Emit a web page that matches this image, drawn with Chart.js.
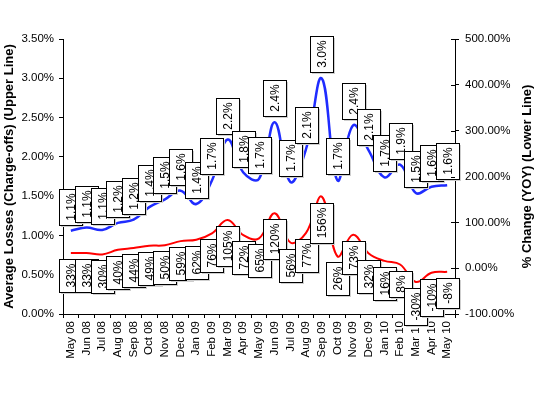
<!DOCTYPE html>
<html>
<head>
<meta charset="utf-8">
<script src="https://cdn.jsdelivr.net/npm/chart.js@4/dist/chart.umd.min.js"></script>
<style>
  html, body { margin: 0; padding: 0; background: #fff; }
  #wrap { position: relative; width: 540px; height: 395px; }
</style>
</head>
<body>
<div id="wrap"><canvas id="chart"></canvas></div>
<script>
const months = ['May 08', 'Jun 08', 'Jul 08', 'Aug 08', 'Sep 08', 'Oct 08', 'Nov 08', 'Dec 08',
  'Jan 09', 'Feb 09', 'Mar 09', 'Apr 09', 'May 09', 'Jun 09', 'Jul 09', 'Aug 09', 'Sep 09',
  'Oct 09', 'Nov 09', 'Dec 09', 'Jan 10', 'Feb 10', 'Mar 10', 'Apr 10', 'May 10'];

// average losses (charge-offs), % - left axis
const losses = [1.06, 1.10, 1.07, 1.16, 1.20, 1.36, 1.46, 1.57, 1.40, 1.70, 2.22, 1.80, 1.72,
  2.44, 1.68, 2.10, 3.00, 1.70, 2.40, 2.08, 1.74, 1.90, 1.54, 1.62, 1.64];

// year over year change, % - right axis
const yoyChange = [33, 33, 30, 40, 44, 49, 50, 59, 62, 76, 105, 72, 65, 120, 56, 77, 156,
  26, 73, 32, 16, 8, -30, -10, -8];

const lossLabels = losses.map(v => (v + 1e-9).toFixed(1) + '%');
const yoyLabels = yoyChange.map(v => v + '%');

const FONT = '"Liberation Sans", Arial, sans-serif';

// boxed, rotated data labels like the excel ones
const boxLabels = {
  id: 'boxLabels',
  afterDatasetsDraw(chart) {
    const ctx = chart.ctx;
    ctx.save();
    ctx.font = '12px ' + FONT;
    chart.data.datasets.forEach((ds, di) => {
      const meta = chart.getDatasetMeta(di);
      meta.data.forEach((pt, i) => {
        const text = ds.boxText[i];
        const tw = ctx.measureText(text).width;
        const w = 23, h = Math.round(tw + 9);
        const x = Math.round(pt.x - w / 2);
        const y = Math.round(ds.boxAbove ? pt.y - 6 - h : pt.y + 6);
        ctx.fillStyle = '#cfcfcf';
        ctx.fillRect(x + 2, y + 2, w, h);
        ctx.fillStyle = '#fff';
        ctx.fillRect(x, y, w, h);
        ctx.strokeStyle = '#000';
        ctx.lineWidth = 1;
        ctx.strokeRect(x + 0.5, y + 0.5, w, h);
        ctx.save();
        ctx.translate(x + w / 2 + 1, y + h / 2);
        ctx.rotate(-Math.PI / 2);
        ctx.fillStyle = '#000';
        ctx.textAlign = 'center';
        ctx.textBaseline = 'middle';
        ctx.fillText(text, 0, 0);
        ctx.restore();
      });
    });
    ctx.restore();
  },
};

// both axis titles read bottom to top; right axis ticks cross the axis line
const axisTitles = {
  id: 'axisTitles',
  afterDraw(chart) {
    const ctx = chart.ctx;
    const cy = (chart.chartArea.top + chart.chartArea.bottom) / 2;
    ctx.save();
    ctx.font = 'bold 13px ' + FONT;
    ctx.fillStyle = '#000';
    ctx.textAlign = 'center';
    ctx.textBaseline = 'middle';
    [[9, 'Average Losses (Charge-offs) (Upper Line)'], [527, '% Change (YOY) (Lower Line)']].forEach(([x, t]) => {
      ctx.save();
      ctx.translate(x, cy);
      ctx.rotate(-Math.PI / 2);
      ctx.fillText(t, 0, 0);
      ctx.restore();
    });
    const r = chart.scales.y1;
    ctx.strokeStyle = '#000';
    ctx.lineWidth = 1;
    ctx.beginPath();
    r.ticks.forEach(t => {
      const py = Math.round(r.getPixelForValue(t.value)) + 0.5;
      ctx.moveTo(r.left - 4, py);
      ctx.lineTo(r.left, py);
    });
    ctx.stroke();
    ctx.restore();
  },
};

const tickFont = { family: FONT, size: 11.5 };

new Chart(document.getElementById('chart'), {
  type: 'line',
  data: {
    labels: months,
    datasets: [
      {
        data: yoyChange,
        yAxisID: 'y1',
        borderColor: '#ff0000',
        borderWidth: 2,
        tension: 0.4,
        pointRadius: 0,
        boxText: yoyLabels,
        boxAbove: false,
      },
      {
        data: losses,
        yAxisID: 'y',
        borderColor: '#1f2cff',
        borderWidth: 2.5,
        tension: 0.4,
        pointRadius: 0,
        boxText: lossLabels,
        boxAbove: true,
      },
    ],
  },
  plugins: [boxLabels, axisTitles],
  options: {
    responsive: true,
    maintainAspectRatio: false,
    animation: false,
    layout: { padding: { top: 39, left: 0, right: 0, bottom: 0 } },
    plugins: {
      legend: { display: false },
      tooltip: { enabled: false },
    },
    scales: {
      x: {
        offset: true,
        grid: { offset: true, drawOnChartArea: false, tickLength: 4, color: '#000' },
        border: { color: '#000', width: 1 },
        ticks: { font: tickFont, color: '#000', minRotation: 90, maxRotation: 90, padding: 3, autoSkip: false },
        afterFit(s) { s.height = 81; },
      },
      y: {
        position: 'left',
        min: 0,
        max: 3.5,
        grid: { drawOnChartArea: false, tickLength: 4, color: '#000' },
        border: { color: '#000', width: 1 },
        ticks: { stepSize: 0.5, font: tickFont, color: '#000', padding: 5, callback: v => v.toFixed(2) + '%' },
        afterFit(s) { s.width = 63; },
      },
      y1: {
        position: 'right',
        min: -100,
        max: 500,
        grid: { drawOnChartArea: false, tickLength: 4, color: '#000' },
        border: { color: '#000', width: 1 },
        ticks: { stepSize: 100, font: tickFont, color: '#000', padding: 6, callback: v => v.toFixed(2) + '%' },
        afterFit(s) { s.width = 85; },
      },
    },
  },
});
</script>
</body>
</html>
